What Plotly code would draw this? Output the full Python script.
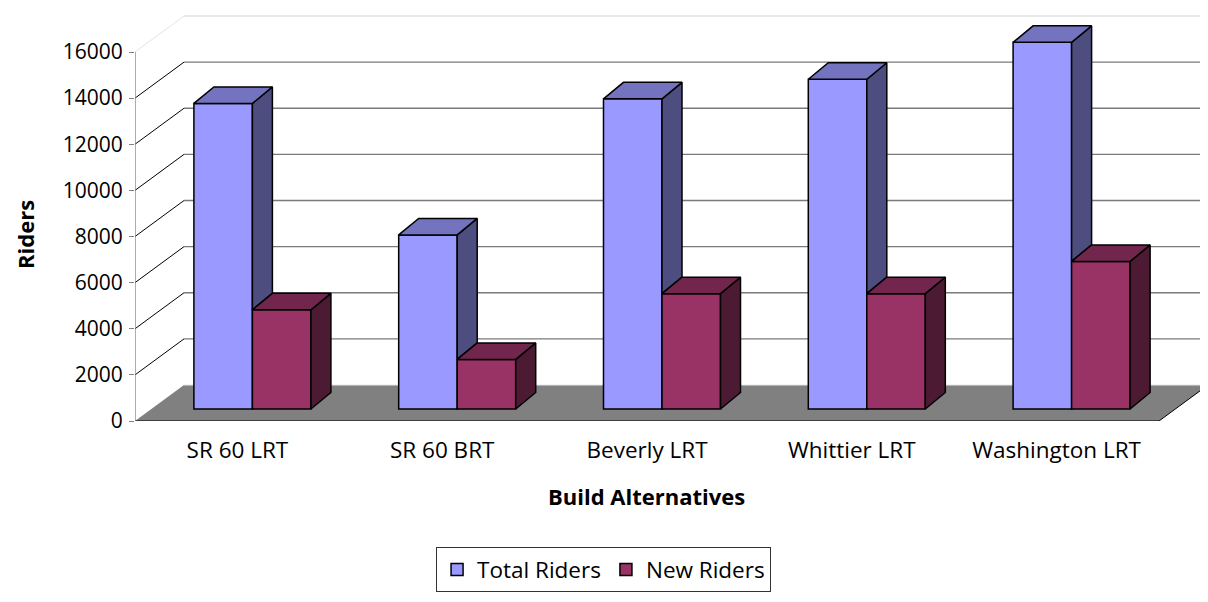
import plotly.graph_objects as go

# data
categories = ["SR 60 LRT", "SR 60 BRT", "Beverly LRT", "Whittier LRT", "Washington LRT"]
total_riders = [13250, 7550, 13450, 14300, 15900]
new_riders = [4300, 2150, 5000, 5000, 6400]
y_ticks = [0, 2000, 4000, 6000, 8000, 10000, 12000, 14000, 16000]

# fake 3d geometry (pixel sizes turned into axis units)
PX_CAT = 204.8            # px per category
PX_VAL = 369 / 16000      # px per rider
def ux(px):
    return px / PX_CAT
def uy(px):
    return px / PX_VAL

X0 = -0.5
X_END = X0 + 1073 / PX_CAT
Y_END = 408 / PX_VAL
WX, WY = ux(49), uy(36)      # wall depth
SX, SY = ux(15), uy(12)      # bar front plane shift
BX, BY = ux(20), uy(16.5)    # bar depth
BW = 1 / 3.5                 # bar width (gap width 150%)

TOTAL = dict(front="#9999FF", top="#7373BF", side="#4D4D80")
NEW = dict(front="#993366", top="#73264D", side="#4D1A33")

fig = go.Figure()

# front faces
fig.add_trace(go.Bar(
    x=list(range(len(categories))), y=total_riders, base=SY, width=BW, offset=-BW + SX,
    name="Total Riders", marker=dict(color=TOTAL["front"], line=dict(color="black", width=1.5)),
))
fig.add_trace(go.Bar(
    x=list(range(len(categories))), y=new_riders, base=SY, width=BW, offset=SX,
    name="New Riders", marker=dict(color=NEW["front"], line=dict(color="black", width=1.5)),
))

def poly_trace(polys, color):
    xs, ys = [], []
    for p in polys:
        for px, py in p:
            xs.append(px)
            ys.append(py)
        xs.append(p[0][0])
        ys.append(p[0][1])
        xs.append(None)
        ys.append(None)
    return go.Scatter(x=xs, y=ys, mode="lines", fill="toself", fillcolor=color,
                      line=dict(color="black", width=1.5), showlegend=False, hoverinfo="skip")

t_side, t_top, n_side, n_top = [], [], [], []
for i, (t, n) in enumerate(zip(total_riders, new_riders)):
    xl = i - BW + SX
    xm = i + SX
    xr = i + BW + SX
    tt = SY + t
    nt = SY + n
    t_top.append([(xl, tt), (xm, tt), (xm + BX, tt + BY), (xl + BX, tt + BY)])
    t_side.append([(xm, tt), (xm + BX, tt + BY), (xm + BX, nt + BY), (xm, nt)])
    n_top.append([(xm, nt), (xr, nt), (xr + BX, nt + BY), (xm + BX, nt + BY)])
    n_side.append([(xr, SY), (xr, nt), (xr + BX, nt + BY), (xr + BX, SY + BY)])

fig.add_trace(poly_trace(t_side, TOTAL["side"]))
fig.add_trace(poly_trace(t_top, TOTAL["top"]))
fig.add_trace(poly_trace(n_side, NEW["side"]))
fig.add_trace(poly_trace(n_top, NEW["top"]))

# walls, floor, gridlines
shapes = []
for v in y_ticks[1:]:
    col = "#000000" if v < 16000 else "#e3e3e3"
    hcol = "#7a7a7a" if v < 16000 else "#e3e3e3"
    shapes.append(dict(type="line", x0=X0, y0=v, x1=X0 + WX, y1=v + WY,
                       line=dict(color=col, width=1), layer="below"))
    shapes.append(dict(type="line", x0=X0 + WX, y0=v + WY, x1=X_END, y1=v + WY,
                       line=dict(color=hcol, width=1.3), layer="below"))
n_cat = len(categories)
x_front_end = X0 + n_cat
shapes.append(dict(type="path",
                   path=f"M {X0} 0 L {x_front_end} 0 L {x_front_end + WX} {WY} L {X0 + WX} {WY} Z",
                   fillcolor="#808080", line=dict(width=0), layer="below"))
shapes.append(dict(type="line", x0=X0 + WX, y0=WY, x1=x_front_end + WX, y1=WY,
                   line=dict(color="#e6e6e6", width=1), layer="below"))
shapes.append(dict(type="line", x0=x_front_end, y0=0, x1=x_front_end + WX, y1=WY,
                   line=dict(color="black", width=1), layer="below"))
shapes.append(dict(type="line", x0=X0, y0=0, x1=x_front_end, y1=0,
                   line=dict(color="black", width=1.2), layer="below"))
shapes.append(dict(type="line", x0=X0, y0=0, x1=X0, y1=16000,
                   line=dict(color="#808080", width=1.3), layer="below"))

FONT = "'Open Sans', Lato, sans-serif"

# page body has an 8px margin, so the figure is 8px smaller than the window
fig.update_layout(
    width=1200, height=594,
    margin=dict(l=127, r=0, t=5, b=181, autoexpand=False),
    paper_bgcolor="white", plot_bgcolor="white",
    barmode="overlay",
    font=dict(family=FONT, size=22, color="black"),
    shapes=shapes,
    xaxis=dict(range=[X0, X_END], tickvals=list(range(n_cat)), ticktext=categories,
               showgrid=False, zeroline=False, showline=False, ticks="", automargin=False,
               tickfont=dict(size=22.5), ticklabelstandoff=13),
    xaxis2=dict(range=[X0, X_END], overlaying="x", side="bottom", automargin=False,
                tickvals=[X0 + k for k in range(n_cat + 1)], ticks="outside", ticklen=7,
                tickcolor="black", showticklabels=False, showgrid=False, zeroline=False),
    yaxis=dict(range=[0, Y_END], tickvals=y_ticks, ticktext=[str(v) for v in y_ticks],
               ticks="outside", ticklen=5, automargin=False,
               tickcolor="#808080", showgrid=False, zeroline=False, showline=False,
               tickfont=dict(size=21), ticklabelstandoff=2),
    legend=dict(orientation="h", x=0.4963, xref="container", xanchor="center",
                y=0.0539, yref="container", yanchor="middle",
                bordercolor="#333333", borderwidth=1, font=dict(size=22.5),
                traceorder="normal", itemwidth=30),
    annotations=[
        dict(text="<b>Riders</b>", x=-0.1025, y=0.456, xref="paper", yref="paper",
             xanchor="center", yanchor="middle",
             textangle=-90, showarrow=False, font=dict(size=22)),
        dict(text="<b>Build Alternatives</b>", x=0.477, y=-0.184, xref="paper", yref="paper",
             xanchor="center", yanchor="middle", showarrow=False, font=dict(size=22)),
    ],
)

fig.write_html("out.html")
